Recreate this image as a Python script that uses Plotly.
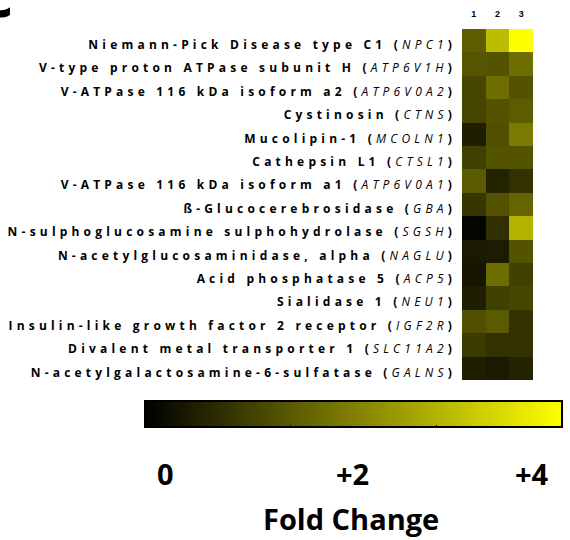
import plotly.graph_objects as go

proteins = [
    "Niemann-Pick Disease type C1", "V-type proton ATPase subunit H",
    "V-ATPase 116 kDa isoform a2", "Cystinosin", "Mucolipin-1", "Cathepsin L1",
    "V-ATPase 116 kDa isoform a1", "ß-Glucocerebrosidase",
    "N-sulphoglucosamine sulphohydrolase", "N-acetylglucosaminidase, alpha",
    "Acid phosphatase 5", "Sialidase 1", "Insulin-like growth factor 2 receptor",
    "Divalent metal transporter 1", "N-acetylgalactosamine-6-sulfatase",
]
genes = ["NPC1", "ATP6V1H", "ATP6V0A2", "CTNS", "MCOLN1", "CTSL1", "ATP6V0A1",
         "GBA", "SGSH", "NAGLU", "ACP5", "NEU1", "IGF2R", "SLC11A2", "GALNS"]
columns = ["1", "2", "3"]
sample1 = [1.45, 1.33, 1.10, 1.10, 0.47, 1.00, 1.40, 0.85, 0.08, 0.40, 0.35, 0.47, 1.25, 0.93, 0.47]
sample2 = [2.95, 1.30, 1.70, 1.30, 1.25, 1.30, 0.55, 1.28, 0.75, 0.44, 1.70, 1.00, 1.40, 0.78, 0.40]
sample3 = [4.00, 1.70, 1.30, 1.45, 1.90, 1.30, 0.78, 1.57, 2.80, 1.30, 1.00, 1.10, 0.78, 0.78, 0.55]
cbar_labels = ["0", "+2", "+4"]
cbar_title = "Fold Change"

W, H = 570, 540
L, R, T, B = 462, 533, 29, 380


def px(x):
    return (x - L) / (R - L)


def py(y):
    return (B - y) / (B - T)


rows = list(range(len(proteins)))
z = [[sample1[i], sample2[i], sample3[i]] for i in rows]
ticktext = [f"<b>{p} (</b><i>{g}</i><b>)</b>" for p, g in zip(proteins, genes)]

fig = go.Figure(go.Heatmap(
    z=z, x=[1, 2, 3], y=rows,
    zmin=0, zmax=4,
    colorscale=[[0, "rgb(0,0,0)"], [0.5, "rgb(128,128,0)"], [1, "rgb(255,255,0)"]],
    colorbar=dict(
        orientation="h",
        x=px(353.5), y=py(401), xanchor="center", yanchor="top",
        lenmode="pixels", len=417, thickness=26,
        outlinewidth=2, outlinecolor="black",
        showticklabels=False, tickvals=[1.4, 2.8], ticks="inside",
        ticklen=3, tickcolor="black", xpad=0, ypad=0,
    ),
))

fig.update_xaxes(side="top", tickvals=[1, 2, 3], ticktext=columns,
                 tickfont=dict(family="Liberation Sans", size=9, color="black", weight="bold"),
                 showgrid=False, zeroline=False, showline=False, ticks="",
                 ticklabelstandoff=9, fixedrange=True)
fig.update_yaxes(tickvals=rows, ticktext=ticktext, autorange="reversed",
                 tickfont=dict(family="Open Sans", size=12, color="black"),
                 showgrid=False, zeroline=False, showline=False, ticks="",
                 ticklabelstandoff=5, ticklabelshift=-4, fixedrange=True)

annotations = []
for lab, xc in zip(cbar_labels, [165, 352, 532]):
    annotations.append(dict(text=f"<b>{lab}</b>", x=px(xc), y=py(473), xref="paper", yref="paper",
                            xanchor="center", yanchor="middle", showarrow=False,
                            font=dict(family="Open Sans", size=29, color="black")))
annotations.append(dict(text=f"<b>{cbar_title}</b>", x=px(351), y=py(518), xref="paper", yref="paper",
                        xanchor="center", yanchor="middle", showarrow=False,
                        font=dict(family="Open Sans", size=29, color="black")))
annotations.append(dict(text="<b>c</b>", x=px(-3), y=py(37), xref="paper", yref="paper",
                        xanchor="center", yanchor="bottom", showarrow=False,
                        font=dict(family="Open Sans", size=60, color="black")))

fig.update_layout(
    width=W, height=H,
    margin=dict(l=L, r=W - R, t=T, b=H - B, autoexpand=False),
    paper_bgcolor="white", plot_bgcolor="white",
    annotations=annotations,
)

post = ("document.body.style.margin='0';"
        "var s=document.createElement('style');"
        "s.innerHTML='body{margin:0}.ytick text{letter-spacing:4.2px;}';"
        "document.head.appendChild(s);")
fig.write_html("out.html", post_script=post, config={"displayModeBar": False})
